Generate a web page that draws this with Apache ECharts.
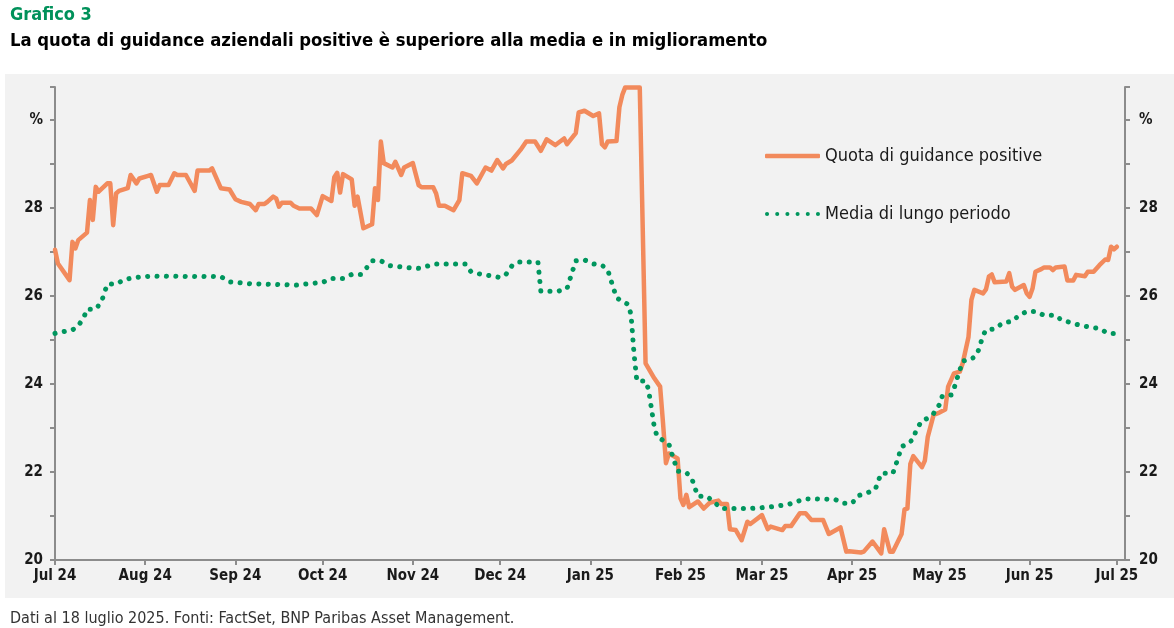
<!DOCTYPE html>
<html style="height: 100%">
<head>
<meta charset="utf-8">
<script src="https://cdn.jsdelivr.net/npm/echarts@6/dist/echarts.min.js"></script>
</head>
<body style="height: 100%; margin: 0; background: #fff">
<div id="container" style="width: 1174px; height: 628px"></div>
<script type="text/javascript">
var FONT = '"DejaVu Sans Condensed", "DejaVu Sans", sans-serif';

var monthNames = ['Jan', 'Feb', 'Mar', 'Apr', 'May', 'Jun', 'Jul', 'Aug', 'Sep', 'Oct', 'Nov', 'Dec'];
var seriesNames = ['Quota di guidance positive', 'Media di lungo periodo'];

// Quota di guidance positive (%)
var quotaDates = [
  '2024-07-01','2024-07-02','2024-07-06','2024-07-07','2024-07-08','2024-07-09','2024-07-12','2024-07-13','2024-07-14','2024-07-15',
  '2024-07-16','2024-07-19','2024-07-20','2024-07-21','2024-07-22','2024-07-23','2024-07-26','2024-07-27','2024-07-29','2024-07-30',
  '2024-08-02','2024-08-03','2024-08-05','2024-08-06','2024-08-09','2024-08-11','2024-08-12','2024-08-15','2024-08-18','2024-08-19',
  '2024-08-23','2024-08-24','2024-08-27','2024-08-30','2024-09-01','2024-09-03','2024-09-06','2024-09-08','2024-09-09','2024-09-11',
  '2024-09-12','2024-09-14','2024-09-15','2024-09-16','2024-09-17','2024-09-20','2024-09-21','2024-09-23','2024-09-27','2024-09-29',
  '2024-10-01','2024-10-04','2024-10-05','2024-10-06','2024-10-07','2024-10-08','2024-10-11','2024-10-12','2024-10-13','2024-10-15',
  '2024-10-18','2024-10-19','2024-10-20','2024-10-21','2024-10-22','2024-10-25','2024-10-26','2024-10-28','2024-10-29','2024-11-01',
  '2024-11-03','2024-11-04','2024-11-08','2024-11-09','2024-11-10','2024-11-12','2024-11-15','2024-11-17','2024-11-18','2024-11-21',
  '2024-11-23','2024-11-26','2024-11-28','2024-11-30','2024-12-02','2024-12-03','2024-12-05','2024-12-08','2024-12-10','2024-12-13',
  '2024-12-15','2024-12-17','2024-12-20','2024-12-23','2024-12-24','2024-12-27','2024-12-28','2024-12-30','2025-01-02','2025-01-04',
  '2025-01-05','2025-01-06','2025-01-07','2025-01-10','2025-01-11','2025-01-12','2025-01-13','2025-01-18','2025-01-20','2025-01-23',
  '2025-01-25','2025-01-26','2025-01-27','2025-01-28','2025-01-31','2025-02-01','2025-02-02','2025-02-03','2025-02-04','2025-02-07',
  '2025-02-09','2025-02-11','2025-02-14','2025-02-15','2025-02-17','2025-02-18','2025-02-20','2025-02-22','2025-02-24','2025-02-25',
  '2025-03-01','2025-03-03','2025-03-04','2025-03-08','2025-03-09','2025-03-11','2025-03-14','2025-03-16','2025-03-18','2025-03-22',
  '2025-03-24','2025-03-28','2025-03-30','2025-03-31','2025-04-04','2025-04-05','2025-04-08','2025-04-11','2025-04-12','2025-04-14',
  '2025-04-15','2025-04-18','2025-04-19','2025-04-20','2025-04-21','2025-04-22','2025-04-25','2025-04-26','2025-04-27','2025-04-29',
  '2025-05-01','2025-05-03','2025-05-04','2025-05-06','2025-05-08','2025-05-09','2025-05-11','2025-05-12','2025-05-13','2025-05-16',
  '2025-05-17','2025-05-18','2025-05-19','2025-05-20','2025-05-24','2025-05-25','2025-05-26','2025-05-27','2025-05-30','2025-05-31',
  '2025-06-01','2025-06-02','2025-06-03','2025-06-05','2025-06-06','2025-06-08','2025-06-09','2025-06-10','2025-06-13','2025-06-14',
  '2025-06-16','2025-06-17','2025-06-20','2025-06-21','2025-06-23','2025-06-25','2025-06-27','2025-06-28','2025-06-29','2025-06-30',
  '2025-07-01'
];
var quotaValues = [
  27.05,26.74,26.36,27.23,27.08,27.27,27.44,28.18,27.73,28.48,
  28.37,28.56,28.56,27.61,28.33,28.39,28.45,28.75,28.56,28.67,
  28.73,28.75,28.37,28.52,28.52,28.79,28.75,28.75,28.39,28.85,
  28.85,28.90,28.45,28.42,28.20,28.14,28.09,27.95,28.09,28.09,
  28.14,28.26,28.22,28.03,28.12,28.12,28.05,27.99,27.99,27.84,
  28.27,28.16,28.70,28.80,28.35,28.77,28.65,28.05,28.26,27.54,
  27.63,28.45,28.18,29.51,29.02,28.92,29.05,28.75,28.92,29.02,
  28.52,28.47,28.47,28.33,28.05,28.05,27.95,28.18,28.79,28.73,
  28.56,28.92,28.85,29.09,28.90,29.00,29.08,29.32,29.51,29.51,
  29.30,29.56,29.43,29.58,29.45,29.70,30.17,30.21,30.09,30.15,
  29.45,29.38,29.51,29.52,30.29,30.57,30.74,30.74,24.47,24.13,
  23.94,23.11,22.20,22.42,22.31,21.40,21.25,21.48,21.20,21.33,
  21.17,21.30,21.35,21.27,21.27,20.70,20.68,20.45,20.87,20.82,
  21.02,20.70,20.76,20.68,20.77,20.77,21.06,21.06,20.91,20.91,
  20.59,20.74,20.19,20.20,20.17,20.19,20.42,20.15,20.70,20.19,
  20.19,20.59,21.15,21.17,22.18,22.36,22.11,22.26,22.80,23.30,
  23.35,23.42,23.94,24.24,24.28,24.47,25.07,25.91,26.14,26.06,
  26.15,26.44,26.49,26.31,26.33,26.52,26.21,26.14,26.25,26.06,
  25.98,26.17,26.55,26.61,26.65,26.65,26.59,26.65,26.67,26.35,
  26.35,26.48,26.45,26.55,26.55,26.70,26.83,26.82,27.12,27.06,
  27.12
];

// Media di lungo periodo (%)
var mediaDates = [
  '2024-07-01','2024-07-07','2024-07-09','2024-07-11','2024-07-12','2024-07-15','2024-07-17','2024-07-18','2024-07-19','2024-07-22',
  '2024-07-25','2024-07-31','2024-08-04','2024-08-27','2024-08-30','2024-09-06','2024-09-22','2024-09-28','2024-10-01','2024-10-04',
  '2024-10-08','2024-10-11','2024-10-14','2024-10-16','2024-10-18','2024-10-21','2024-10-24','2024-10-31','2024-11-03','2024-11-09',
  '2024-11-19','2024-11-21','2024-11-24','2024-12-01','2024-12-03','2024-12-05','2024-12-07','2024-12-14','2024-12-15','2024-12-21',
  '2024-12-24','2024-12-25','2024-12-27','2024-12-30','2025-01-02','2025-01-05','2025-01-07','2025-01-09','2025-01-10','2025-01-12',
  '2025-01-14','2025-01-15','2025-01-16','2025-01-17','2025-01-20','2025-01-21','2025-01-22','2025-01-23','2025-01-24','2025-01-28',
  '2025-01-29','2025-01-31','2025-02-03','2025-02-05','2025-02-06','2025-02-07','2025-02-10','2025-02-13','2025-02-15','2025-02-25',
  '2025-03-03','2025-03-10','2025-03-13','2025-03-16','2025-03-26','2025-03-29','2025-04-01','2025-04-03','2025-04-06','2025-04-09',
  '2025-04-10','2025-04-11','2025-04-15','2025-04-16','2025-04-17','2025-04-18','2025-04-20','2025-04-22','2025-04-23','2025-04-25',
  '2025-04-27','2025-04-29','2025-05-01','2025-05-02','2025-05-05','2025-05-06','2025-05-07','2025-05-08','2025-05-09','2025-05-12',
  '2025-05-14','2025-05-15','2025-05-16','2025-05-17','2025-05-20','2025-05-23','2025-05-26','2025-05-28','2025-05-31','2025-06-03',
  '2025-06-06','2025-06-10','2025-06-12','2025-06-15','2025-06-18','2025-06-22','2025-06-25','2025-06-28','2025-07-01'
];
var mediaValues = [
  25.15,25.23,25.32,25.53,25.70,25.70,25.87,26.08,26.27,26.27,
  26.38,26.44,26.45,26.44,26.32,26.28,26.25,26.29,26.31,26.40,
  26.40,26.49,26.49,26.63,26.80,26.80,26.69,26.64,26.63,26.73,
  26.73,26.55,26.50,26.42,26.49,26.68,26.77,26.77,26.11,26.11,
  26.17,26.38,26.80,26.82,26.73,26.70,26.59,26.17,25.96,25.88,
  25.81,25.58,24.71,24.07,24.07,23.88,23.45,23.02,22.80,22.64,
  22.42,22.02,21.99,21.83,21.63,21.45,21.45,21.29,21.17,21.17,
  21.20,21.26,21.33,21.39,21.38,21.29,21.29,21.46,21.52,21.61,
  21.80,21.97,21.97,22.16,22.36,22.58,22.63,22.75,22.95,23.17,
  23.22,23.33,23.53,23.73,23.75,23.89,24.11,24.31,24.52,24.56,
  24.68,24.89,25.10,25.23,25.25,25.40,25.42,25.54,25.65,25.65,
  25.56,25.56,25.45,25.40,25.34,25.29,25.26,25.15,25.15
];

function zip(dates, values) {
  return dates.map(function (d, i) { return [d, values[i]]; });
}

function yLabel(v) {
  if (v === 30) return '%';
  return v % 2 === 0 ? String(v) : '';
}

// legend keys: a thick rounded bar and a row of six dots
var barIcon = 'roundRect';
var dotsIcon = 'path://M0,2a2,2 0 1 0 4,0a2,2 0 1 0 -4,0' +
  'M10,2a2,2 0 1 0 4,0a2,2 0 1 0 -4,0M20,2a2,2 0 1 0 4,0a2,2 0 1 0 -4,0' +
  'M30,2a2,2 0 1 0 4,0a2,2 0 1 0 -4,0M40,2a2,2 0 1 0 4,0a2,2 0 1 0 -4,0' +
  'M50,2a2,2 0 1 0 4,0a2,2 0 1 0 -4,0';

var dom = document.getElementById('container');
var myChart = echarts.init(dom);

var yAxisCommon = {
  type: 'value',
  min: 20,
  max: 30.75,
  interval: 1,
  splitLine: { show: false },
  axisLine: { show: true, lineStyle: { color: '#8c8c8c', width: 2 } },
  axisTick: { show: true, length: 5, lineStyle: { color: '#8c8c8c', width: 2 } },
  axisLabel: {
    formatter: yLabel,
    color: '#1a1a1a',
    fontFamily: FONT,
    fontSize: 15,
    fontWeight: 'bold',
    margin: 12
  }
};

var option = {
  animation: false,
  backgroundColor: '#ffffff',
  graphic: [{
    type: 'rect',
    z: -10,
    shape: { x: 5, y: 74, width: 1169, height: 524 },
    style: { fill: '#f2f2f2' }
  }],
  title: [{
    text: 'Grafico 3',
    left: 5,
    top: 1,
    textStyle: { color: '#00915a', fontFamily: FONT, fontSize: 18, fontWeight: 'bold' }
  }, {
    text: 'La quota di guidance aziendali positive è superiore alla media e in miglioramento',
    left: 5,
    top: 27,
    textStyle: { color: '#000000', fontFamily: FONT, fontSize: 18.3, fontWeight: 'bold' }
  }, {
    text: 'Dati al 18 luglio 2025. Fonti: FactSet, BNP Paribas Asset Management.',
    left: 5,
    top: 606,
    textStyle: { color: '#333333', fontFamily: FONT, fontSize: 16, fontWeight: 'normal' }
  }],
  legend: {
    data: [
      { name: seriesNames[0], icon: barIcon },
      { name: seriesNames[1], icon: dotsIcon }
    ],
    orient: 'vertical',
    left: 760,
    top: 140,
    itemWidth: 55,
    itemHeight: 4.5,
    itemGap: 36,
    textStyle: { color: '#1a1a1a', fontFamily: FONT, fontSize: 18, lineHeight: 22 }
  },
  grid: { left: 55, right: 49, top: 87, bottom: 68 },
  xAxis: {
    type: 'time',
    min: '2024-07-01',
    max: new Date(2025, 6, 3, 19).getTime(),
    minInterval: 28 * 86400000,
    maxInterval: 31 * 86400000,
    splitLine: { show: false },
    axisLine: { show: true, lineStyle: { color: '#8c8c8c', width: 2 } },
    axisTick: { show: true, length: 5, lineStyle: { color: '#8c8c8c', width: 2 } },
    axisLabel: {
      formatter: function (val) {
        var d = new Date(val);
        return monthNames[d.getMonth()] + ' ' + String(d.getFullYear()).slice(2);
      },
      color: '#1a1a1a',
      fontFamily: FONT,
      fontSize: 15,
      fontWeight: 'bold',
      margin: 9
    }
  },
  yAxis: [
    Object.assign({}, yAxisCommon, { position: 'left' }),
    Object.assign({}, yAxisCommon, { position: 'right', axisLabel: Object.assign({}, yAxisCommon.axisLabel, { margin: 14 }) })
  ],
  series: [{
    name: seriesNames[0],
    type: 'line',
    symbol: 'none',
    z: 3,
    data: zip(quotaDates, quotaValues),
    itemStyle: { color: '#f28a5c' },
    lineStyle: { color: '#f28a5c', width: 4.5, join: 'round', cap: 'round' }
  }, {
    name: seriesNames[1],
    type: 'line',
    symbol: 'none',
    z: 4,
    data: zip(mediaDates, mediaValues),
    itemStyle: { color: '#00965e' },
    lineStyle: { color: '#00965e', width: 5, type: [0.1, 9.3], cap: 'round' }
  }]
};

myChart.setOption(option);
</script>
</body>
</html>
